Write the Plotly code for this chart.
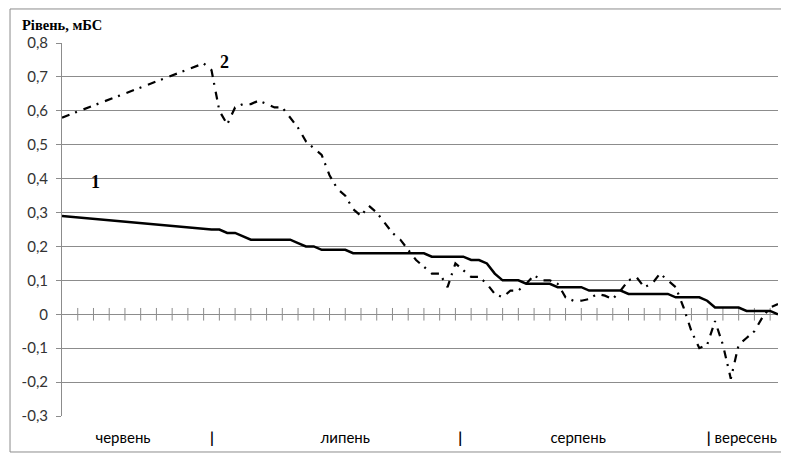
import plotly.graph_objects as go

# category index = day number starting 12 June (0) .. 11 September (91)
days = list(range(92))

level1_known = {
    0: 0.29, 18: 0.25, 19: 0.25, 20: 0.25, 21: 0.24, 22: 0.24, 23: 0.23, 24: 0.22,
    25: 0.22, 26: 0.22, 27: 0.22, 28: 0.22, 29: 0.22, 30: 0.21, 31: 0.20, 32: 0.20,
    33: 0.19, 34: 0.19, 35: 0.19, 36: 0.19, 37: 0.18, 38: 0.18, 39: 0.18, 40: 0.18,
    41: 0.18, 42: 0.18, 43: 0.18, 44: 0.18, 45: 0.18, 46: 0.18, 47: 0.17, 48: 0.17,
    49: 0.17, 50: 0.17, 51: 0.17, 52: 0.16, 53: 0.16, 54: 0.15, 55: 0.12, 56: 0.10,
    57: 0.10, 58: 0.10, 59: 0.09, 60: 0.09, 61: 0.09, 62: 0.09, 63: 0.08, 64: 0.08,
    65: 0.08, 66: 0.08, 67: 0.07, 68: 0.07, 69: 0.07, 70: 0.07, 71: 0.07, 72: 0.06,
    73: 0.06, 74: 0.06, 75: 0.06, 76: 0.06, 77: 0.06, 78: 0.05, 79: 0.05, 80: 0.05,
    81: 0.05, 82: 0.04, 83: 0.02, 84: 0.02, 85: 0.02, 86: 0.02, 87: 0.01, 88: 0.01,
    89: 0.01, 90: 0.01, 91: 0.00,
}
level2_known = {
    0: 0.58, 18: 0.74, 19: 0.72, 20: 0.60, 21: 0.56, 22: 0.61, 23: 0.62, 24: 0.62,
    25: 0.63, 26: 0.62, 27: 0.61, 28: 0.61, 29: 0.58, 30: 0.55, 31: 0.51, 32: 0.49,
    33: 0.47, 34: 0.41, 35: 0.37, 36: 0.35, 37: 0.31, 38: 0.29, 39: 0.32, 40: 0.30,
    41: 0.27, 42: 0.24, 43: 0.22, 44: 0.19, 45: 0.16, 46: 0.14, 47: 0.12, 48: 0.12,
    49: 0.08, 50: 0.15, 51: 0.13, 52: 0.11, 53: 0.11, 54: 0.09, 55: 0.06, 56: 0.05,
    57: 0.07, 58: 0.07, 59: 0.09, 60: 0.115, 61: 0.10, 62: 0.10, 63: 0.09, 64: 0.05,
    65: 0.04, 66: 0.04, 67: 0.045, 68: 0.06, 69: 0.055, 70: 0.045, 71: 0.07, 72: 0.10,
    73: 0.11, 74: 0.08, 75: 0.09, 76: 0.12, 77: 0.10, 78: 0.08, 79: 0.02, 80: -0.05,
    81: -0.10, 82: -0.09, 83: -0.02, 84: -0.09, 85: -0.19, 86: -0.09, 87: -0.07,
    88: -0.05, 89: -0.01, 90: 0.02, 91: 0.03,
}
x1 = list(level1_known.keys())
level1 = list(level1_known.values())
x2 = list(level2_known.keys())
level2 = list(level2_known.values())

y_ticks = [-0.3, -0.2, -0.1, 0, 0.1, 0.2, 0.3, 0.4, 0.5, 0.6, 0.7, 0.8]
y_tick_text = ["-0,3", "-0,2", "-0,1", "0", "0,1", "0,2", "0,3", "0,4", "0,5", "0,6", "0,7", "0,8"]

month_pos = [7.75, 19.06, 36.0, 50.6, 65.6, 86.4]
month_text = ["червень", "<b>|</b>", "липень", "<b>|</b>", "серпень", "<b>|</b> вересень"]

zero_ticks = list(range(2, 91, 2))

fig = go.Figure()
fig.add_trace(go.Scatter(
    x=zero_ticks, y=[0] * len(zero_ticks), mode="markers",
    marker=dict(symbol="line-ns", size=9, line=dict(color="#8c8c8c", width=1)),
    hoverinfo="skip", showlegend=False))
fig.add_trace(go.Scatter(
    x=x1, y=level1, mode="lines", line=dict(color="black", width=2.5),
    showlegend=False))
fig.add_trace(go.Scatter(
    x=x2, y=level2, mode="lines",
    line=dict(color="black", width=2.2, dash="8px,6px,2px,7px"),
    showlegend=False))

fig.update_layout(
    width=781, height=451,
    margin=dict(l=54, r=11, t=35, b=43),
    paper_bgcolor="white", plot_bgcolor="white",
    font=dict(family="Lato, Carlito, Calibri, sans-serif", size=14, color="#222"),
    xaxis=dict(range=[0, 91], showgrid=False, zeroline=False, showline=False,
               tickvals=month_pos, ticktext=month_text, ticks="",
               ticklabelstandoff=11, tickfont=dict(size=15, color="black")),
    yaxis=dict(range=[-0.3, 0.8], tickvals=y_ticks, ticktext=y_tick_text,
               showgrid=True, gridcolor="#8c8c8c", gridwidth=1,
               zeroline=True, zerolinecolor="#8c8c8c", zerolinewidth=1,
               showline=True, linecolor="#8c8c8c", linewidth=1,
               ticks="outside", ticklen=5, tickcolor="#8c8c8c",
               ticklabelstandoff=5,
               tickfont=dict(size=15, color="#333")),
    annotations=[
        dict(text="<b>Рівень, мБС</b>", xref="paper", yref="paper",
             x=-0.058, y=1.047, xanchor="left", yanchor="middle", showarrow=False,
             font=dict(family="Liberation Serif, Times New Roman, serif", size=14.5, color="black")),
        dict(text="<b>1</b>", x=4.3, y=0.39, showarrow=False,
             font=dict(family="Liberation Serif, Times New Roman, serif", size=18, color="black")),
        dict(text="<b>2</b>", x=20.6, y=0.745, showarrow=False,
             font=dict(family="Liberation Serif, Times New Roman, serif", size=18, color="black")),
    ],
    shapes=[dict(type="rect", xref="paper", yref="paper",
                 x0=-0.0726, x1=1.0112, y0=-0.0965, y1=1.0912,
                 line=dict(color="#8c8c8c", width=1))],
)

fig.write_html("out.html")
